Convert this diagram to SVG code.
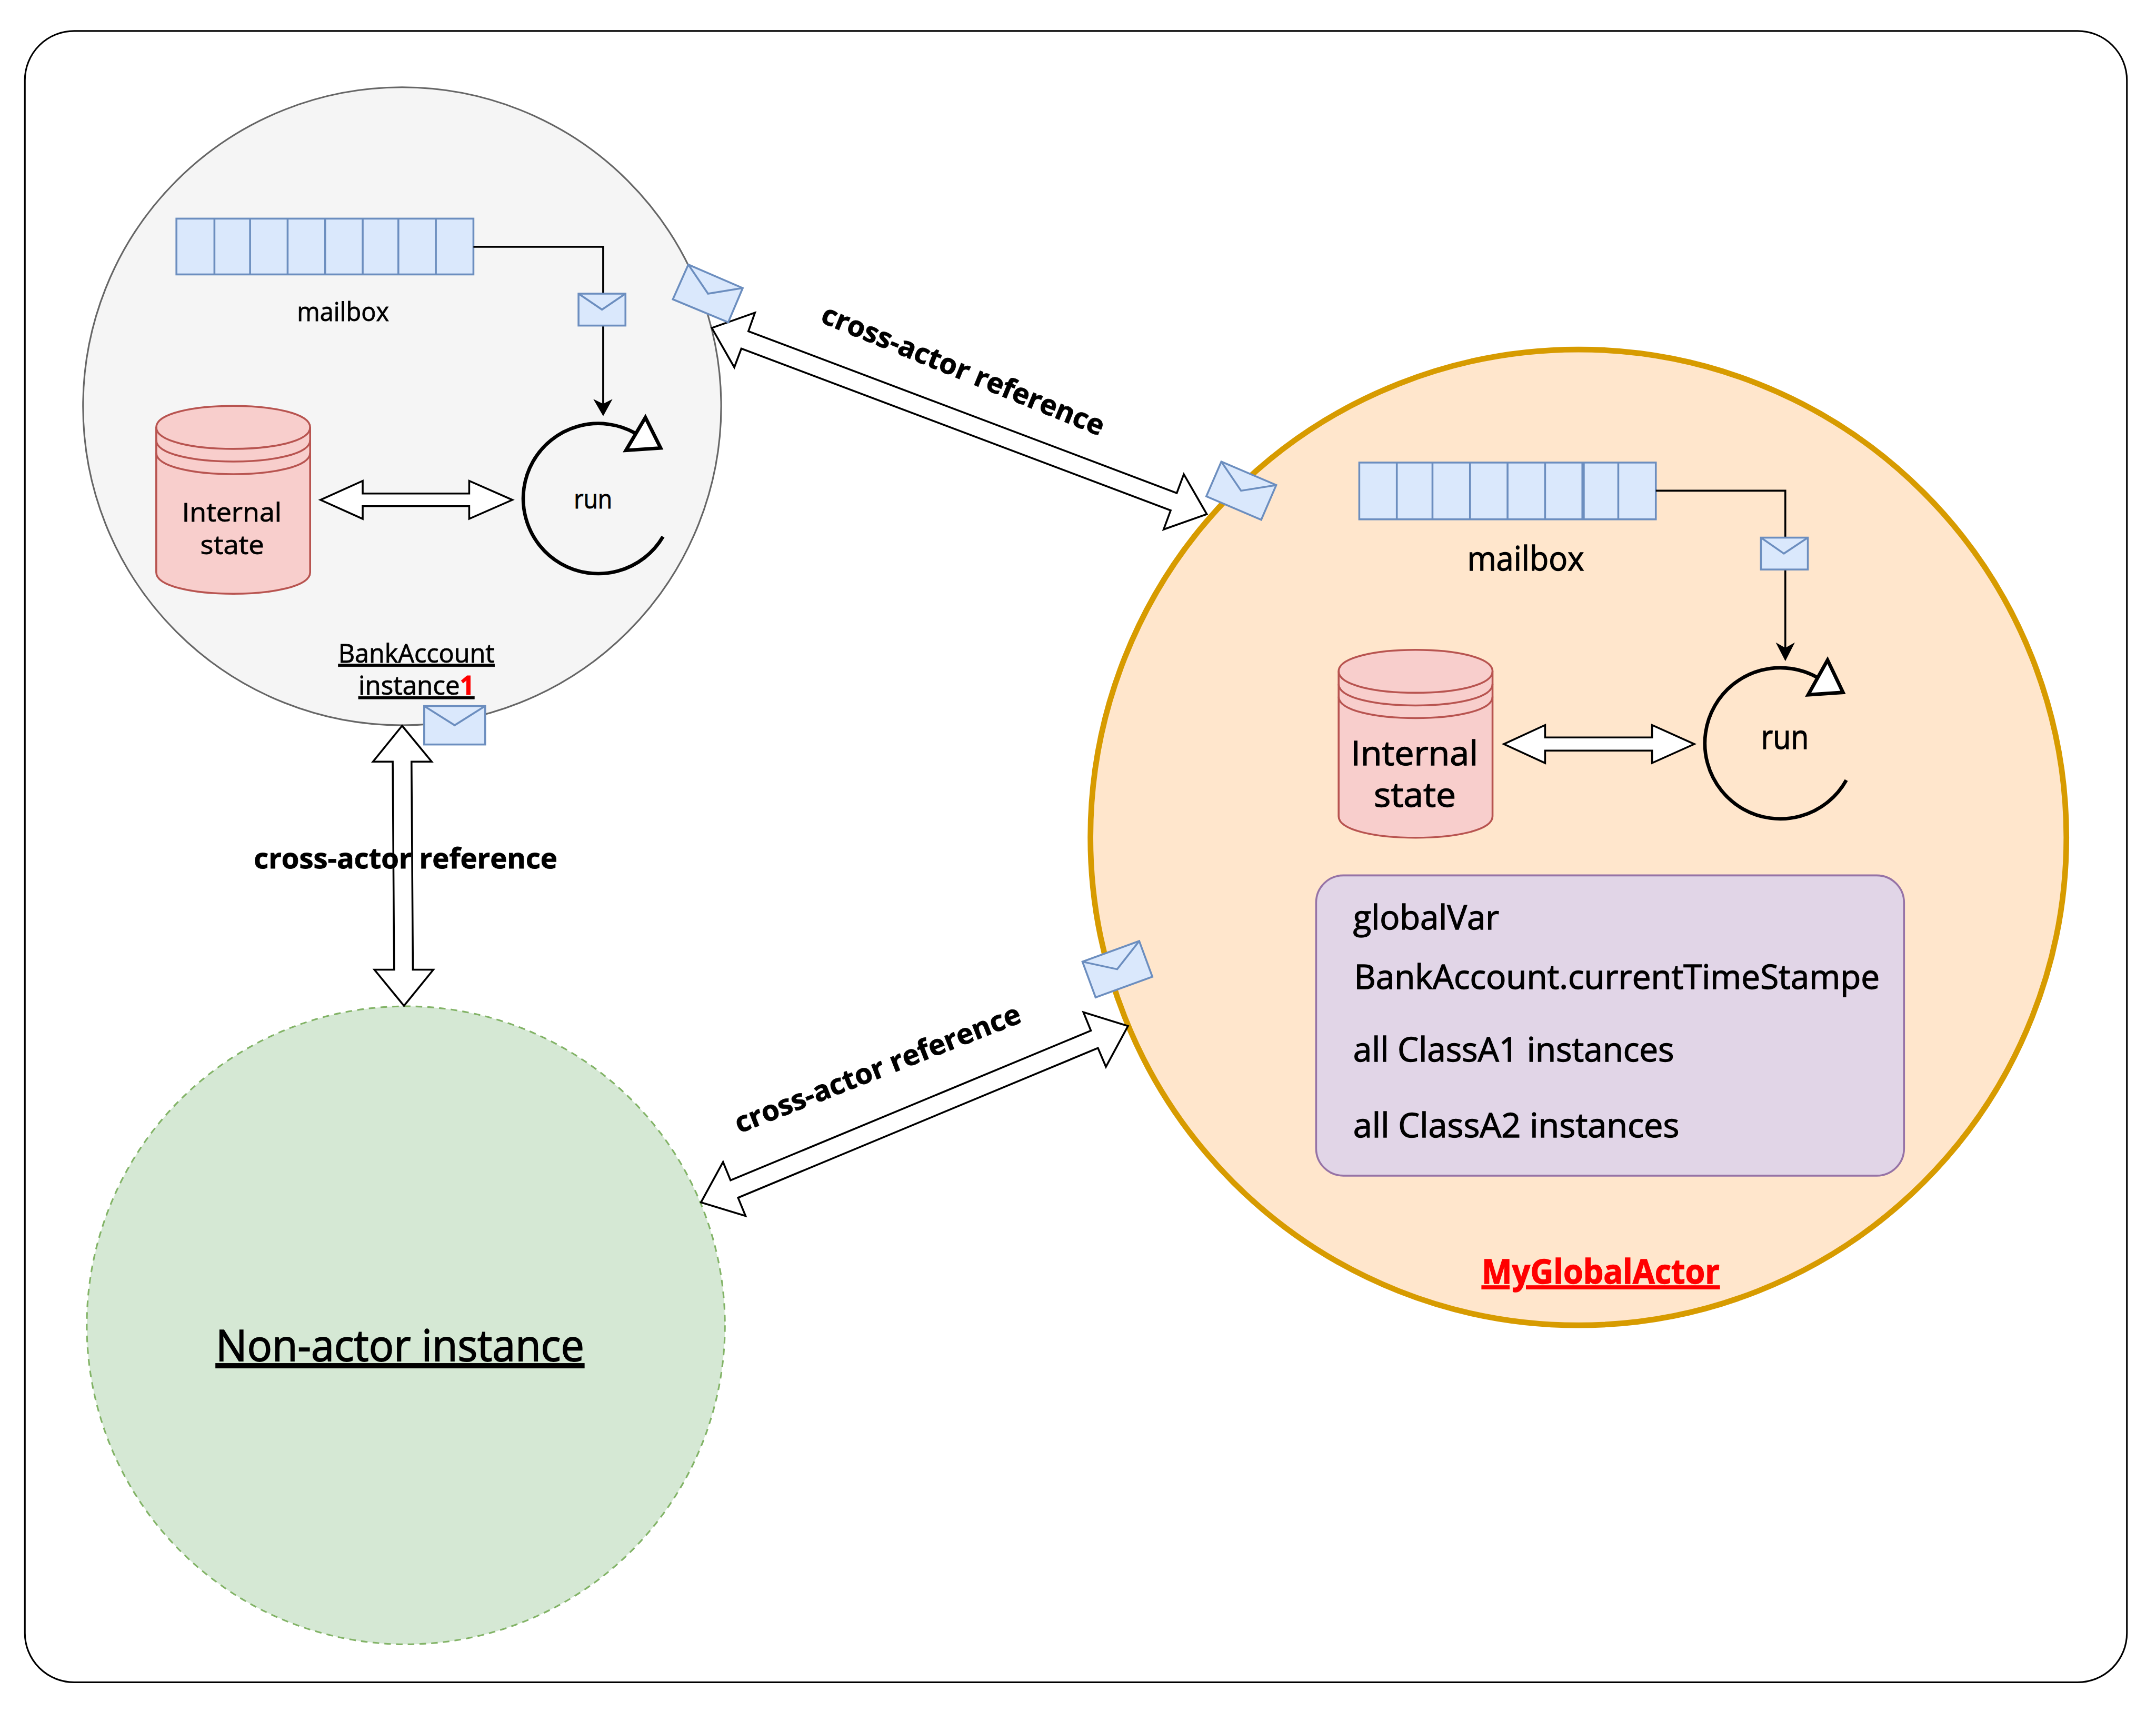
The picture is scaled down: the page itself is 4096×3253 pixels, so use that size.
<svg xmlns="http://www.w3.org/2000/svg" width="4096" height="3253" viewBox="0 0 4096 3253">
<style>
text{font-family:"Open Sans","Noto Sans","Liberation Sans",sans-serif;fill:#000}
.s{font-size:56px;stroke:#000;stroke-width:1}.b{font-size:72px;stroke:#000;stroke-width:1.500}.m{font-size:60px;font-weight:700;stroke:#000;stroke-width:1}.c{text-anchor:middle}
.u{text-decoration:underline}
.env{fill:#dae8fc;stroke:#6c8ebf;stroke-width:4;stroke-linejoin:miter}
.flap{fill:none;stroke:#6c8ebf;stroke-width:4}
.mb{fill:#dae8fc;stroke:#6c8ebf;stroke-width:4}
.dbl{fill:#fff;stroke:#000;stroke-width:4;stroke-linejoin:miter}
.ln{fill:none;stroke:#000;stroke-width:4}
.hd{fill:#000;stroke:#000;stroke-width:2}
.cyl{fill:#f8cecc;stroke:#b85450;stroke-width:4}
.cyln{fill:none;stroke:#b85450;stroke-width:4}
.arc{fill:none;stroke:#000;stroke-width:7.500}
.tri{fill:#fff;stroke:#000;stroke-width:7.500}
</style>
<g transform="scale(0.8914)">
<rect id="frame" x="53" y="66" width="4480" height="3520" rx="105" ry="105" fill="#fff" stroke="#000" stroke-width="3.500"/>

<g id="actor-bankaccount">
<circle cx="857" cy="866" r="680" fill="#f5f5f5" stroke="#666666" stroke-width="3.500"/>
<g id="mailbox-1">
<rect class="mb" x="376" y="466" width="633" height="119"/>
<path class="mb" d="M457 466V585M533 466V585M613 466V585M693 466V585M773 466V585M849 466V585M929 466V585"/>
<text class="s" x="633" y="684" textLength="196" lengthAdjust="spacingAndGlyphs">mailbox</text>
</g>
<g id="state-1">
<path class="cyl" d="M333 911C333 850 661 850 661 911V1220C661 1281 333 1281 333 1220Z"/>
<path class="cyln" d="M333 911C333 972 661 972 661 911M333 938C333 999 661 999 661 938M333 965C333 1026 661 1026 661 965"/>
<text class="s" x="388" y="1112" textLength="212" lengthAdjust="spacingAndGlyphs">Internal</text>
<text class="s" x="427" y="1181" textLength="136" lengthAdjust="spacingAndGlyphs">state</text>
</g>
<g id="run-1">
<path class="arc" d="M1353 923A160 160 0 1 0 1413 1144"/>
<polygon class="tri" points="1375.500,890 1408,955 1334,960"/>
<text class="s" x="1223" y="1084" textLength="82" lengthAdjust="spacingAndGlyphs">run</text>
</g>
<text class="s u" x="721" y="1412" textLength="333" lengthAdjust="spacingAndGlyphs">BankAccount</text>
<text class="s u" y="1481"><tspan x="764" textLength="216" lengthAdjust="spacingAndGlyphs">instance</tspan><tspan style="fill:#ff0000;stroke:#ff0000;font-weight:700" textLength="31" lengthAdjust="spacingAndGlyphs">1</tspan></text>
</g>

<g id="global-actor">
<circle cx="3364" cy="1785" r="1040" fill="#ffe6cc" stroke="#d79b00" stroke-width="12"/>
<g id="mailbox-2">
<rect class="mb" x="2897" y="986" width="632" height="121"/>
<path class="mb" d="M2977 986V1107M3053 986V1107M3133 986V1107M3213 986V1107M3293 986V1107M3449 986V1107"/>
<path class="mb" style="stroke-width:7" d="M3374 986V1107"/>
<text class="b" x="3127" y="1216" textLength="249" lengthAdjust="spacingAndGlyphs">mailbox</text>
</g>
<g id="state-2">
<path class="cyl" d="M2853 1431C2853 1370 3181 1370 3181 1431V1740C3181 1801 2853 1801 2853 1740Z"/>
<path class="cyln" d="M2853 1431C2853 1492 3181 1492 3181 1431M2853 1458C2853 1519 3181 1519 3181 1458M2853 1485C2853 1546 3181 1546 3181 1485"/>
<text class="b" x="2879" y="1631" textLength="271" lengthAdjust="spacingAndGlyphs">Internal</text>
<text class="b" x="2928" y="1720" textLength="175" lengthAdjust="spacingAndGlyphs">state</text>
</g>
<g id="run-2">
<path class="arc" d="M3875 1445A161 161 0 1 0 3935 1663"/>
<polygon class="tri" points="3895,1407 3928,1476 3853.600,1481"/>
<text class="b" x="3753" y="1596" textLength="102" lengthAdjust="spacingAndGlyphs">run</text>
</g>
<g id="global-state">
<rect x="2805" y="1866" width="1253" height="640" rx="58" ry="58" fill="#e1d5e7" stroke="#9673a6" stroke-width="4"/>
<text class="b" x="2884" y="1981" textLength="311" lengthAdjust="spacingAndGlyphs">globalVar</text>
<text class="b" x="2886" y="2108" textLength="1120" lengthAdjust="spacingAndGlyphs">BankAccount.currentTimeStampe</text>
<text class="b" x="2884" y="2263" textLength="684" lengthAdjust="spacingAndGlyphs">all ClassA1 instances</text>
<text class="b" x="2884" y="2424" textLength="695" lengthAdjust="spacingAndGlyphs">all ClassA2 instances</text>
</g>
<text class="b u" x="3158" y="2736" textLength="507" lengthAdjust="spacingAndGlyphs" style="fill:#ff0000;stroke:#ff0000;font-weight:700">MyGlobalActor</text>
</g>

<g id="non-actor">
<circle cx="865" cy="2825" r="680" fill="#d5e8d4" stroke="#82b366" stroke-width="3.500" stroke-dasharray="14 11"/>
<text class="u" x="460" y="2901" font-size="92" stroke="#000" stroke-width="2" textLength="785" lengthAdjust="spacingAndGlyphs">Non-actor instance</text>
</g>

<g id="connectors">
<path class="ln" d="M1009 526H1285.500V870"/>
<polygon class="hd" points="1285.500,885 1267,853 1285.500,862 1303,853"/>
<path class="ln" d="M3529 1046H3805V1392"/>
<polygon class="hd" points="3805,1407 3787,1372 3805,1382 3823,1372"/>
<polygon class="dbl" points="683,1065.500 773,1025 773,1052 1000,1052 1000,1025 1092,1065.500 1000,1106 1000,1079 773,1079 773,1106"/>
<polygon class="dbl" points="3205,1586 3293,1545.500 3293,1572 3521,1572 3521,1545.500 3611,1586 3521,1626.500 3521,1600 3293,1600 3293,1626.500"/>
<polygon class="dbl" points="1517,699 1609,666.500 1595,706 2508,1051 2523,1011 2572,1096 2480,1128.500 2495,1088 1580,743 1565,783"/>
<polygon class="dbl" points="1494,2563 1541,2477 1557,2516 2325,2197 2309,2157.600 2404,2187 2357,2274 2340,2234 1573,2553 1589,2592"/>
<polygon class="dbl" points="857,1547 920,1623.500 877,1623.500 880,2067 923.500,2067 861,2144 798,2067 840,2067 837,1623.500 795,1623.500"/>
<text class="m c" x="2045" y="808" transform="rotate(22.200 2045 808)" textLength="645" lengthAdjust="spacingAndGlyphs">cross-actor reference</text>
<text class="m c" x="1878" y="2297" transform="rotate(-21.500 1878 2297)" textLength="650" lengthAdjust="spacingAndGlyphs">cross-actor reference</text>
<text class="m" x="541" y="1851" textLength="647" lengthAdjust="spacingAndGlyphs">cross-actor reference</text>
</g>

<g id="msg-1"><rect class="env" x="1233" y="626" width="100" height="68"/><path class="flap" d="M1233 626L1283 660L1333 626"/></g>
<g id="msg-2"><rect class="env" x="3753" y="1146" width="100" height="68"/><path class="flap" d="M3753 1146L3802 1180L3853 1146"/></g>
<g id="msg-3"><rect class="env" x="904" y="1505" width="130" height="82"/><path class="flap" d="M904 1505L969 1546L1034 1505"/></g>
<g id="msg-4"><polygon class="env" points="1467,564 1583,614 1552,687 1434,638"/><path class="flap" d="M1467 564L1509 626L1583 614"/></g>
<g id="msg-5"><polygon class="env" points="2603,984 2720,1034 2688,1108 2571,1058"/><path class="flap" d="M2603 984L2645 1046L2720 1034"/></g>
<g id="msg-6"><polygon class="env" points="2428,2006 2456,2082 2335,2126 2307,2050"/><path class="flap" d="M2307 2050L2381 2066L2428 2006"/></g>
</g>
</svg>
